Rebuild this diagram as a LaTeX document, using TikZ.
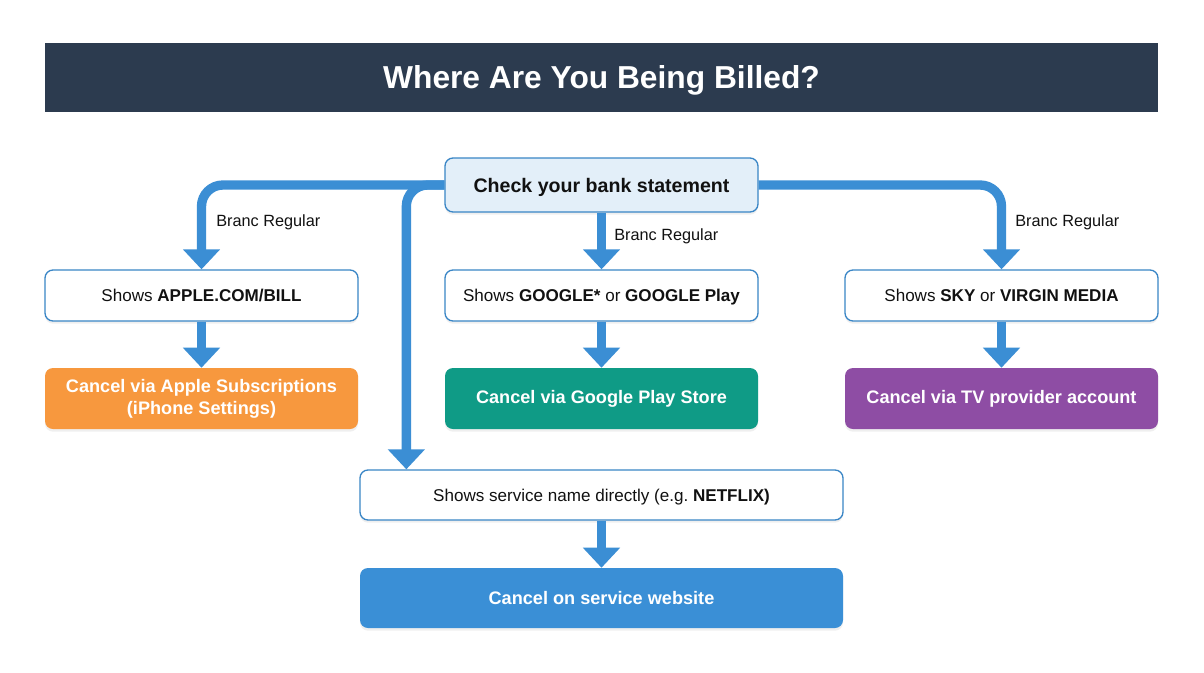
\documentclass[tikz,border=0pt]{standalone}
\usepackage{fontspec}
\setmainfont{Liberation Sans}
\usetikzlibrary{arrows.meta,shadows,calc}
\frenchspacing
\definecolor{titlebg}{HTML}{2C3B4F}
\definecolor{lineblue}{HTML}{3B8ED4}
\definecolor{boxborder}{HTML}{3A86C6}
\definecolor{lightfill}{HTML}{E3EFF9}
\definecolor{orangefill}{HTML}{F7983E}
\definecolor{tealfill}{HTML}{0F9B86}
\definecolor{purplefill}{HTML}{8E4DA4}
\definecolor{bluefill}{HTML}{3A8FD6}
\definecolor{txt}{HTML}{111111}
\tikzset{
  base/.style={rounded corners=6pt, inner sep=2pt,
     drop shadow={opacity=0.12, shadow xshift=0pt, shadow yshift=-2pt}},
  whitebox/.style={base, draw=boxborder, line width=1pt, fill=white, text=txt,
     font=\fontsize{12.8}{15}\selectfont, text height=9.2pt, text depth=0pt},
  startbox/.style={base, draw=boxborder, line width=1pt, fill=lightfill, text=txt,
     font=\fontsize{14.7}{17}\selectfont\bfseries, text height=10.6pt, text depth=0pt},
  colbox/.style={base, align=center, fill=#1, text=white, font=\fontsize{13.6}{16.5}\selectfont\bfseries},
  conn/.style={draw=lineblue, line width=7pt, rounded corners=16pt,
     -{Triangle[width=27pt,length=15pt]}},
  lbl/.style={font=\fontsize{12.2}{14}\selectfont, text=txt, anchor=west, inner sep=0pt}
}
\begin{document}
\begin{tikzpicture}[x=0.75pt,y=-0.75pt]
\useasboundingbox[fill=white] (0,0) rectangle (1204,672);
% title
\node[fill=titlebg, minimum width=1113*0.75pt, minimum height=69*0.75pt, inner sep=0pt,
  text=white, font=\fontsize{23.8}{27}\selectfont\bfseries, text height=17.1pt, text depth=0pt] (title) at (601.5,77.5) {Where Are You Being Billed?};
% nodes
\node[startbox, minimum width=313*0.75pt, minimum height=54*0.75pt] (chk) at (601.5,185) {Check your bank statement};
\node[whitebox, minimum width=313*0.75pt, minimum height=51*0.75pt] (a1) at (201.5,295.5) {Shows \textbf{APPLE.COM/BILL}};
\node[whitebox, minimum width=313*0.75pt, minimum height=51*0.75pt] (b1) at (601.5,295.5) {Shows \textbf{GOOGLE*} or \textbf{GOOGLE Play}};
\node[whitebox, minimum width=313*0.75pt, minimum height=51*0.75pt] (c1) at (1001.5,295.5) {Shows \textbf{SKY} or \textbf{VIRGIN MEDIA}};
\node[colbox=orangefill, minimum width=313*0.75pt, minimum height=61*0.75pt] (a2) at (201.5,398.5) {Cancel via Apple Subscriptions\\(iPhone Settings)};
\node[colbox=tealfill, minimum width=313*0.75pt, minimum height=61*0.75pt] (b2) at (601.5,398.5) {Cancel via Google Play Store};
\node[colbox=purplefill, minimum width=313*0.75pt, minimum height=61*0.75pt] (c2) at (1001.5,398.5) {Cancel via TV provider account};
\node[whitebox, minimum width=483*0.75pt, minimum height=50*0.75pt] (n1) at (601.5,495) {Shows service name directly (e.g. \textbf{NETFLIX)}};
\node[colbox=bluefill, minimum width=483*0.75pt, minimum height=60*0.75pt] (n2) at (601.5,598) {Cancel on service website};
% connectors
\draw[conn] (chk.west) -| ([xshift=47*0.75pt]n1.north west);
\draw[conn] (chk.west) -| (a1.north);
\draw[conn] (chk.east) -| (c1.north);
\draw[conn] (chk.south) -- (b1.north);
\draw[conn] (a1.south) -- (a2.north);
\draw[conn] (b1.south) -- (b2.north);
\draw[conn] (c1.south) -- (c2.north);
\draw[conn] (n1.south) -- (n2.north);
% labels
\node[lbl] (l1) at (216,222) {Branc Regular};
\node[lbl] (l2) at (614,236) {Branc Regular};
\node[lbl] (l3) at (1015,222) {Branc Regular};
\end{tikzpicture}
\end{document}
